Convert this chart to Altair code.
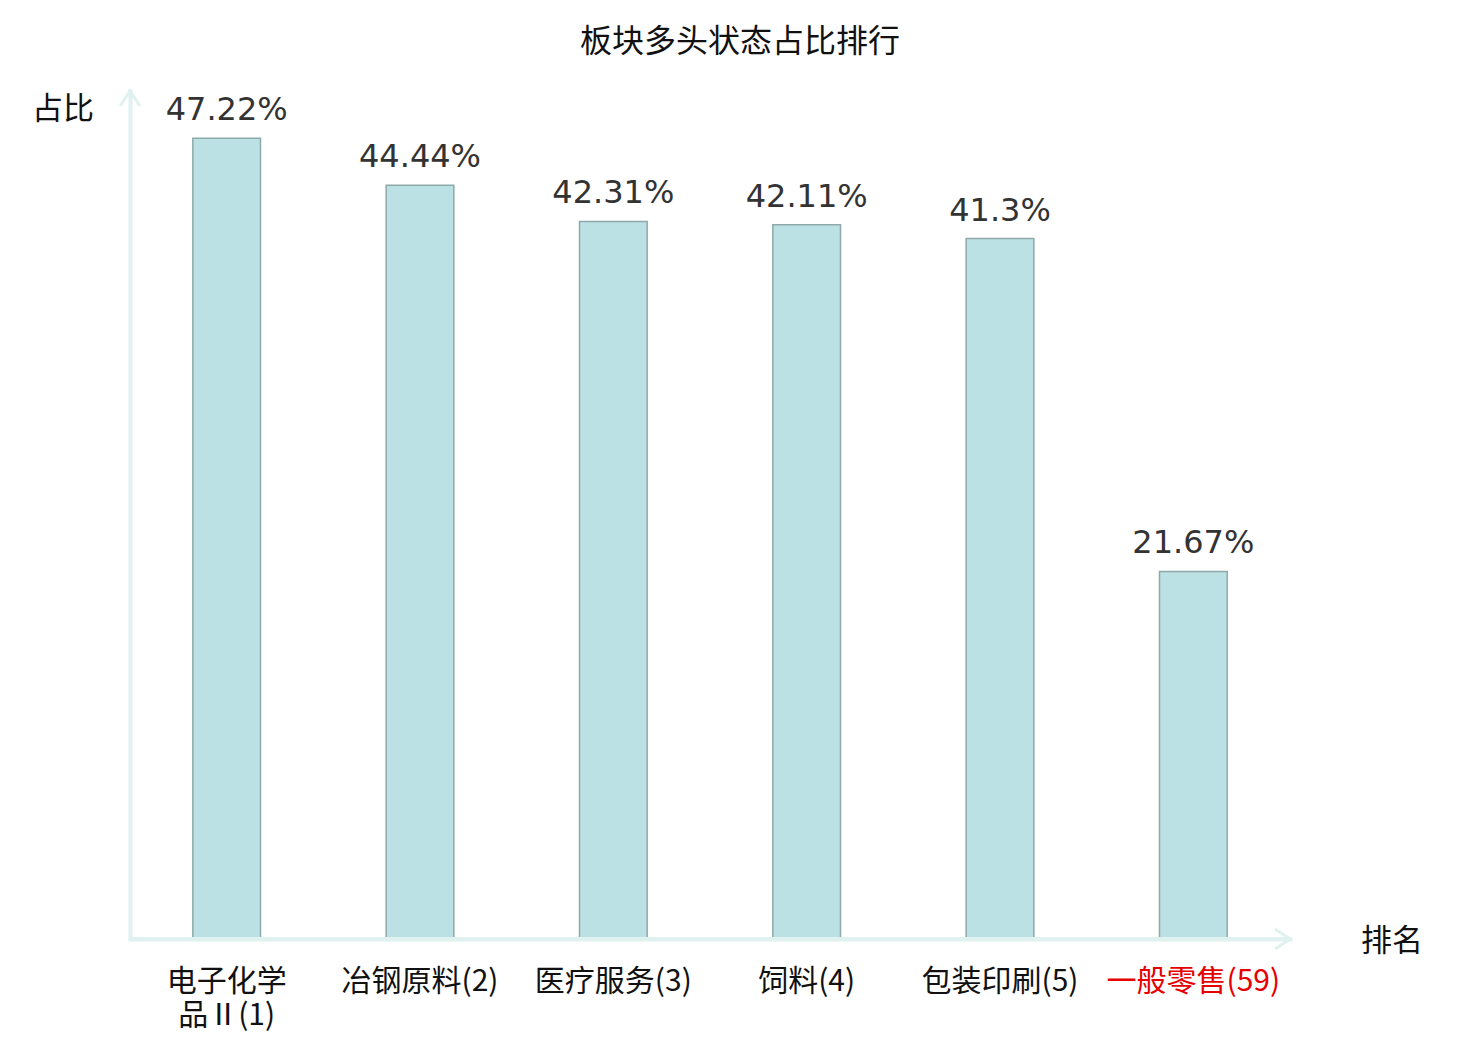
import altair as alt
import pandas as pd

categories = ["电子化学\n品Ⅱ(1)", "冶钢原料(2)", "医疗服务(3)", "饲料(4)", "包装印刷(5)", "一般零售(59)"]
values = [47.22, 44.44, 42.31, 42.11, 41.3, 21.67]
value_labels = ["47.22%", "44.44%", "42.31%", "42.11%", "41.3%", "21.67%"]
highlight = "一般零售(59)"

df = pd.DataFrame({"cat": categories, "val": values, "lab": value_labels})

W, H = 1160, 848
CJK = "Noto Sans CJK SC"
AXC = "#dff2ef"

xenc = alt.X("cat:N", sort=None,
             scale=alt.Scale(paddingInner=0.65, paddingOuter=0.325),
             axis=alt.Axis(title=None, labelAngle=0, domainColor=AXC, domainWidth=4,
                           ticks=False, grid=False, labelFont=CJK, labelFontSize=30,
                           labelPadding=27, labelLineHeight=34,
                           labelExpr="split(datum.label, '\\n')",
                           labelColor=alt.expr(f"datum.value == '{highlight}' ? '#e60000' : '#111111'")))
yenc = alt.Y("val:Q", scale=alt.Scale(domain=[0, 50]),
             axis=alt.Axis(title=None, labels=False, ticks=False, grid=False,
                           domainColor=AXC, domainWidth=4))

base = alt.Chart(df)
bars = base.mark_bar(fill="#bce1e4", stroke="#8ea9a9", strokeWidth=1.5).encode(x=xenc, y=yenc)
texts = base.mark_text(font="DejaVu Sans", fontSize=32, color="#333333",
                       baseline="alphabetic", dy=-18).encode(x=xenc, y=yenc, text="lab:N")

arrow_path = "M -0.66 1 L 0 0 L 0.66 1"
arrow_path_x = "M -1 -0.66 L 0 0 L -1 0.66"
yarrow = alt.Chart(pd.DataFrame({"v": [50]})).mark_point(
    shape=arrow_path, size=900, filled=False, stroke=AXC, strokeWidth=3, opacity=1
).encode(x=alt.value(0), y=alt.Y("v:Q", scale=alt.Scale(domain=[0, 50])))
xarrow = alt.Chart(pd.DataFrame({"v": [0]})).mark_point(
    shape=arrow_path_x, size=900, filled=False, stroke=AXC, strokeWidth=3, opacity=1
).encode(x=alt.value(W), y=alt.Y("v:Q", scale=alt.Scale(domain=[0, 50])))
xline_ext = alt.Chart(pd.DataFrame({"v": [0]})).mark_rule(stroke=AXC, strokeWidth=4).encode(
    x=alt.value(0), x2=alt.value(W), y=alt.Y("v:Q", scale=alt.Scale(domain=[0, 50])))

title_t = alt.Chart(pd.DataFrame({"t": ["板块多头状态占比排行"]})).mark_text(
    font=CJK, fontSize=32, color="#111111", baseline="middle", align="center"
).encode(x=alt.value(610), y=alt.value(-49), text="t:N")
ytitle = alt.Chart(pd.DataFrame({"t": ["占比"]})).mark_text(
    font=CJK, fontSize=31, color="#111111", baseline="middle", align="center"
).encode(x=alt.value(-67), y=alt.value(19), text="t:N")
xtitle = alt.Chart(pd.DataFrame({"t": ["排名"]})).mark_text(
    font=CJK, fontSize=31, color="#111111", baseline="middle", align="center"
).encode(x=alt.value(1262), y=alt.value(851), text="t:N")

chart = alt.layer(bars, texts, xline_ext, yarrow, xarrow, title_t, ytitle, xtitle).properties(
    width=W, height=H,
    autosize=alt.AutoSizeParams(type="none"),
    padding={"left": 122, "top": 83, "right": 182, "bottom": 100},
).configure_view(stroke=None).configure_axis(domainCap="square")

chart.save("out.html", embed_options={"renderer": "svg", "actions": False})
